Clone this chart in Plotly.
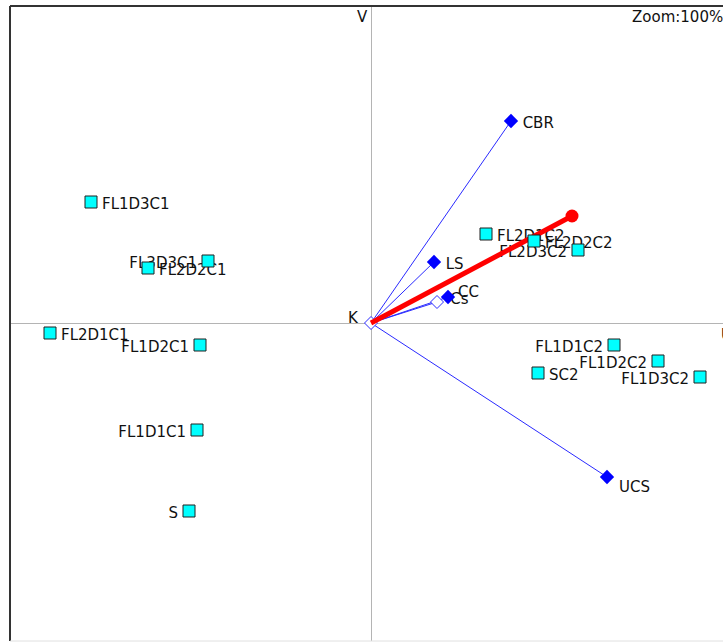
import plotly.graph_objects as go

# ---- data (biplot scores) ----
site_names = ["FL1D3C1", "FL3D3C1", "FL2D2C1", "FL2D1C1", "FL1D2C1", "FL1D1C1", "S",
              "FL2D1C2", "FL2D2C2", "FL2D3C2", "FL1D1C2", "FL1D2C2", "FL1D3C2", "SC2"]
site_x = [-2.80, -1.63, -2.23, -3.21, -1.71, -1.74, -1.82,
          1.15, 1.63, 2.07, 2.43, 2.87, 3.29, 1.67]
site_y = [1.21, 0.62, 0.55, -0.10, -0.22, -1.07, -1.88,
          0.89, 0.82, 0.73, -0.22, -0.38, -0.54, -0.50]

var_names = ["CBR", "LS", "Cs", "UCS"]
var_x = [1.40, 0.63, 0.77, 2.36]
var_y = [2.02, 0.61, 0.26, -1.54]

open_names = ["CC", "K"]
open_x = [0.66, 0.0]
open_y = [0.21, 0.0]

sup_name = ["supp"]
sup_x = [2.01]
sup_y = [1.07]

axis_names = ["U", "V"]

# ---- styling (kept separate from data) ----
label_side = {
    "FL1D3C1": "middle right", "FL3D3C1": "middle left", "FL2D2C1": "middle right",
    "FL2D1C1": "middle right", "FL1D2C1": "middle left", "FL1D1C1": "middle left",
    "S": "middle left", "FL2D1C2": "middle right", "FL2D2C2": "middle right",
    "FL2D3C2": "middle left", "FL1D1C2": "middle left", "FL1D2C2": "middle left",
    "FL1D3C2": "middle left", "SC2": "middle right",
}
var_label_gap = {"CBR": 17, "LS": 17, "Cs": 2}

FONT = dict(family="DejaVu Sans", size=15, color="#111111")
BLUE = "#2a2aff"
CLEAR = "rgba(0,0,0,0)"
Y_RANGE = [-3.18, 3.17]
LABEL_DROP = 0.03  # labels sit a few pixels below their marks

fig = go.Figure()

# ---- labels: main axes, slightly lowered range (drawn beneath the marks) ----
lab_names = [n for n in var_names if n in var_label_gap]
lab_idx = [var_names.index(n) for n in lab_names]
fig.add_trace(go.Scatter(x=[var_x[i] for i in lab_idx], y=[var_y[i] for i in lab_idx],
                         mode="markers+text", text=lab_names, textposition="middle right",
                         textfont=FONT, cliponaxis=False,
                         marker=dict(size=[var_label_gap[n] for n in lab_names], color=CLEAR),
                         hoverinfo="skip"))
fig.add_trace(go.Scatter(x=site_x, y=site_y, mode="markers+text", text=site_names,
                         textposition=[label_side[n] for n in site_names],
                         textfont=FONT, cliponaxis=False,
                         marker=dict(size=16, color=CLEAR),
                         hoverinfo="skip"))

# ---- marks: overlay axes with the true range ----
for nx, ny in zip(var_x + open_x, var_y + open_y):
    fig.add_trace(go.Scatter(x=[0, nx], y=[0, ny], mode="lines", yaxis="y2",
                             line=dict(color=BLUE, width=1), hoverinfo="skip"))

fig.add_trace(go.Scatter(x=open_x, y=open_y, mode="markers", yaxis="y2",
                         marker=dict(symbol="diamond", size=10, color="white",
                                     line=dict(color=BLUE, width=1)),
                         hoverinfo="skip"))

fig.add_trace(go.Scatter(x=[0, sup_x[0]], y=[0, sup_y[0]], mode="lines", yaxis="y2",
                         line=dict(color="#ff0000", width=5), hoverinfo="skip"))
fig.add_trace(go.Scatter(x=sup_x, y=sup_y, mode="markers", yaxis="y2",
                         marker=dict(symbol="circle", size=13, color="#ff0000"),
                         hoverinfo="skip"))

fig.add_trace(go.Scatter(x=var_x, y=var_y, mode="markers", yaxis="y2",
                         marker=dict(symbol="diamond", size=11, color="#0000ff",
                                     line=dict(color="#0000ff", width=0)),
                         hoverinfo="skip"))

fig.add_trace(go.Scatter(x=site_x, y=site_y, mode="markers", yaxis="y2",
                         marker=dict(symbol="square", size=12, color="#00ffff",
                                     line=dict(color="#202020", width=1)),
                         hoverinfo="skip"))

ucs = var_names.index("UCS")
annotations = [
    dict(x=var_x[ucs], y=var_y[ucs], yref="y2", text=var_names[ucs], showarrow=False,
         xanchor="left", yanchor="middle", xshift=10, yshift=-10, font=FONT),
    dict(x=open_x[0], y=open_y[0], yref="y2", text=open_names[0], showarrow=False,
         xanchor="left", yanchor="middle", xshift=19, yshift=10, font=FONT),
    dict(x=open_x[1], y=open_y[1], yref="y2", text=open_names[1], showarrow=False,
         xanchor="right", yanchor="middle", xshift=-10, yshift=5, font=FONT),
    dict(x=0, y=1, yref="paper", text=axis_names[1], showarrow=False, xanchor="right",
         yanchor="middle", xshift=-1, yshift=-11, font=FONT),
    dict(x=1, xref="paper", y=0, yref="y2", text=axis_names[0], showarrow=False,
         xanchor="left", yanchor="middle", xshift=-4, yshift=-12, font=FONT),
    dict(x=1, xref="paper", y=1, yref="paper", text="Zoom:100%", showarrow=False,
         xanchor="left", yanchor="middle", xshift=-93, yshift=-11, font=FONT),
]

shapes = [
    dict(type="line", xref="paper", yref="paper", x0=0, x1=0, y0=0, y1=1,
         line=dict(color="#333333", width=2)),
    dict(type="line", xref="paper", yref="paper", x0=0, x1=1, y0=1, y1=1,
         line=dict(color="#333333", width=2)),
    dict(type="line", xref="paper", yref="paper", x0=0, x1=1, y0=0, y1=0,
         line=dict(color="#e0e0e0", width=1)),
]

fig.update_layout(
    width=723, height=643,
    margin=dict(l=10, r=0, t=6, b=2),
    paper_bgcolor="white", plot_bgcolor="white",
    showlegend=False,
    annotations=annotations, shapes=shapes,
    xaxis=dict(range=[-3.61, 3.52], showgrid=False, showticklabels=False, ticks="",
               zeroline=True, zerolinecolor="#b4b4b4", zerolinewidth=1, fixedrange=True),
    yaxis=dict(range=[Y_RANGE[0] + LABEL_DROP, Y_RANGE[1] + LABEL_DROP], showgrid=False,
               showticklabels=False, ticks="", zeroline=False, fixedrange=True),
    yaxis2=dict(range=Y_RANGE, overlaying="y", showgrid=False, showticklabels=False,
                ticks="", zeroline=True, zerolinecolor="#b4b4b4", zerolinewidth=1,
                fixedrange=True, layer="below traces"),
)

fig.write_html("out.html", config={"displayModeBar": False},
               post_script="document.body.style.margin='0px';document.body.style.overflow='hidden';")
